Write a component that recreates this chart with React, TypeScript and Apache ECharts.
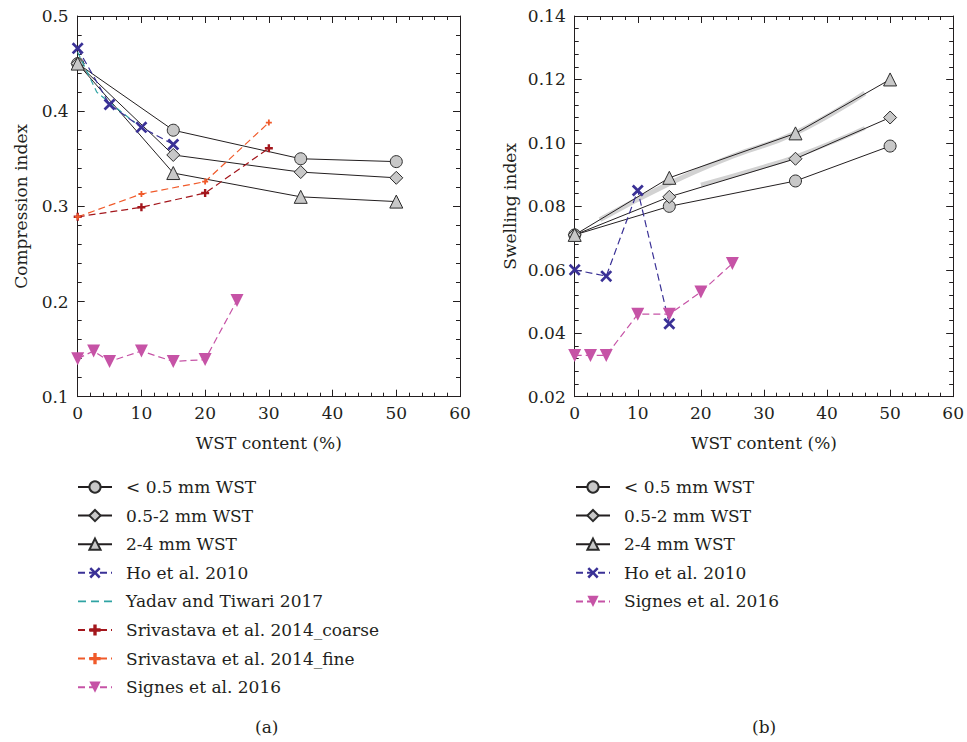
import React, { useEffect, useRef } from "react";
import * as echarts from "echarts";

// ---- data: (a) compression index ----
const wstX = [0, 15, 35, 50];
const ciFine = [0.45, 0.38, 0.35, 0.347];
const ciMid = [0.45, 0.354, 0.336, 0.33];
const ciCoarse = [0.45, 0.335, 0.31, 0.305];
const hoCiX = [0, 5, 10, 15];
const hoCi = [0.466, 0.407, 0.383, 0.365];
const yadavX = [0, 3, 5, 9];
const yadavCi = [0.462, 0.42, 0.409, 0.388];
const srivX = [0, 10, 20, 30];
const srivCoarse = [0.289, 0.299, 0.314, 0.361];
const srivFine = [0.289, 0.313, 0.326, 0.388];
const signesX = [0, 2.5, 5, 10, 15, 20, 25];
const signesCi = [0.14, 0.148, 0.137, 0.148, 0.137, 0.139, 0.201];

// ---- data: (b) swelling index ----
const siFine = [0.071, 0.08, 0.088, 0.099];
const siMid = [0.071, 0.083, 0.095, 0.108];
const siCoarse = [0.071, 0.089, 0.103, 0.12];
const hoSiX = [0, 5, 10, 15];
const hoSi = [0.06, 0.058, 0.085, 0.043];
const signesSi = [0.033, 0.033, 0.033, 0.046, 0.046, 0.053, 0.062];
const bandCoarseX = [4, 15, 25, 35, 46];
const bandCoarse = [0.0758, 0.0872, 0.0958, 0.1031, 0.1157];
const bandMidX = [20, 30, 35, 42, 46];
const bandMid = [0.0868, 0.0925, 0.0957, 0.1012, 0.1047];

const namesA = [
  "< 0.5 mm WST",
  "0.5-2 mm WST",
  "2-4 mm WST",
  "Ho et al. 2010",
  "Yadav and Tiwari 2017",
  "Srivastava et al. 2014_coarse",
  "Srivastava et al. 2014_fine",
  "Signes et al. 2016",
];
const namesB = ["< 0.5 mm WST", "0.5-2 mm WST", "2-4 mm WST", "Ho et al. 2010", "Signes et al. 2016"];

const FONT = "DejaVu Serif";
const FS = 17;
const INK = "#231f20";
const GREY = "#c8c8c8";
const HO = "#3a3196";
const TEAL = "#2fa3a3";
const SCOARSE = "#a3161c";
const SFINE = "#f05a2a";
const SIGNES = "#c653a6";

const X_SYM =
  "path://M0,1.6 L1.6,0 L5,3.4 L8.4,0 L10,1.6 L6.6,5 L10,8.4 L8.4,10 L5,6.6 L1.6,10 L0,8.4 L3.4,5 Z";
const PLUS_SYM = "path://M3.5,0 H6.5 V3.5 H10 V6.5 H6.5 V10 H3.5 V6.5 H0 V3.5 H3.5 Z";
const DASH_ICON =
  "path://M0,0 L0.01,0 Z M34,14 L33.99,14 Z M0,6.2 H8 V7.9 H0 Z M13,6.2 H21 V7.9 H13 Z M26,6.2 H34 V7.9 H26 Z";

const zip = (xs: number[], ys: number[]) => xs.map((x, i) => [x, ys[i]]);

function App() {
  const ref = useRef<HTMLDivElement>(null);
  useEffect(() => {
    if (!ref.current) return;
    const chart = echarts.init(ref.current, null, { renderer: "svg" });
    const txt = { fontFamily: FONT, fontSize: FS, color: INK };
    const grids = [
      { left: 77.7, top: 16, width: 382.3, height: 380.7 },
      { left: 574.7, top: 16, width: 382, height: 380.7 },
    ];
    const xCommon = (gridIndex: number, position: string, labels: boolean) => ({
      type: "value",
      gridIndex,
      position,
      min: 0,
      max: 60,
      interval: 10,
      axisLine: { show: true, onZero: false, lineStyle: { color: INK, width: 1 } },
      axisTick: { show: true, inside: true, length: 7, lineStyle: { color: INK } },
      minorTick: { show: true, splitNumber: 5, length: 4, lineStyle: { color: INK } },
      splitLine: { show: false },
      axisLabel: { show: labels, margin: 8, ...txt },
      ...(labels
        ? { name: "WST content (%)", nameLocation: "middle", nameGap: 38, nameTextStyle: txt }
        : {}),
    });
    const yCommon = (
      gridIndex: number,
      position: string,
      min: number,
      max: number,
      interval: number,
      dec: number,
      name: string | null,
      nameGap: number
    ) => ({
      type: "value",
      gridIndex,
      position,
      min,
      max,
      interval,
      axisLine: { show: true, onZero: false, lineStyle: { color: INK, width: 1 } },
      axisTick: { show: true, inside: true, length: 7, lineStyle: { color: INK } },
      minorTick: { show: true, splitNumber: 5, length: 4, lineStyle: { color: INK } },
      splitLine: { show: false },
      axisLabel: {
        show: !!name,
        margin: 9,
        formatter: (v: number) => v.toFixed(dec),
        ...txt,
      },
      ...(name ? { name, nameLocation: "middle", nameGap, nameTextStyle: txt } : {}),
    });

    const greyLine = (name: string, xi: number, data: number[][], symbol: string, size: number) => ({
      name,
      type: "line",
      xAxisIndex: xi,
      yAxisIndex: xi,
      data,
      symbol,
      symbolSize: size,
      lineStyle: { color: INK, width: 1 },
      itemStyle: { color: GREY, borderColor: "#2b2b2b", borderWidth: 1 },
      z: 3,
    });
    const dashLine = (
      name: string,
      xi: number,
      data: number[][],
      color: string,
      symbol: string,
      size: number,
      rotate = 0,
      dash: number[] = [7, 4]
    ) => ({
      name,
      type: "line",
      xAxisIndex: xi,
      yAxisIndex: xi,
      data,
      symbol,
      symbolSize: size,
      symbolRotate: rotate,
      lineStyle: { color, width: 1.2, type: dash },
      itemStyle: { color, borderWidth: 0 },
      z: 4,
    });

    const legend = (left: number, data: any[]) => ({
      left,
      top: 477,
      orient: "vertical",
      padding: 0,
      itemWidth: 34,
      itemHeight: 14,
      itemGap: 8.6,
      selectedMode: false,
      data,
      textStyle: { ...txt, lineHeight: 20, padding: [0, 0, 0, 9] },
    });
    const legendA = namesA.map((n) =>
      n === "Yadav and Tiwari 2017"
        ? { name: n, icon: DASH_ICON, itemStyle: { color: TEAL, borderWidth: 0, opacity: 1 } }
        : n
    );

    chart.setOption({
      animation: false,
      backgroundColor: "#ffffff",
      grid: grids,
      xAxis: [xCommon(0, "bottom", true), xCommon(0, "top", false), xCommon(1, "bottom", true), xCommon(1, "top", false)],
      yAxis: [
        yCommon(0, "left", 0.1, 0.5, 0.1, 1, "Compression index", 48),
        yCommon(0, "right", 0.1, 0.5, 0.1, 1, null, 0),
        yCommon(1, "left", 0.02, 0.14, 0.02, 2, "Swelling index", 56),
        yCommon(1, "right", 0.02, 0.14, 0.02, 2, null, 0),
      ],
      legend: [legend(77, legendA), legend(575, namesB)],
      series: [
        // (a)
        greyLine("< 0.5 mm WST", 0, zip(wstX, ciFine), "circle", 12),
        greyLine("0.5-2 mm WST", 0, zip(wstX, ciMid), "diamond", 13),
        greyLine("2-4 mm WST", 0, zip(wstX, ciCoarse), "triangle", 13),
        dashLine("Yadav and Tiwari 2017", 0, zip(yadavX, yadavCi), TEAL, "none", 0, 0, [6, 4]),
        dashLine("Srivastava et al. 2014_coarse", 0, zip(srivX, srivCoarse), SCOARSE, PLUS_SYM, 8),
        dashLine("Srivastava et al. 2014_fine", 0, zip(srivX, srivFine), SFINE, PLUS_SYM, 6),
        dashLine("Signes et al. 2016", 0, zip(signesX, signesCi), SIGNES, "triangle", 13, 180),
        dashLine("Ho et al. 2010", 0, zip(hoCiX, hoCi), HO, X_SYM, 12),
        // (b) grey bands
        {
          type: "line",
          xAxisIndex: 2,
          yAxisIndex: 2,
          data: zip(bandCoarseX, bandCoarse),
          symbol: "none",
          smooth: true,
          silent: true,
          lineStyle: { color: "#d2d2d2", width: 5 },
          z: 1,
        },
        {
          type: "line",
          xAxisIndex: 2,
          yAxisIndex: 2,
          data: zip(bandMidX, bandMid),
          symbol: "none",
          smooth: true,
          silent: true,
          lineStyle: { color: "#d2d2d2", width: 4 },
          z: 1,
        },
        greyLine("< 0.5 mm WST", 2, zip(wstX, siFine), "circle", 12),
        greyLine("0.5-2 mm WST", 2, zip(wstX, siMid), "diamond", 13),
        greyLine("2-4 mm WST", 2, zip(wstX, siCoarse), "triangle", 13),
        dashLine("Ho et al. 2010", 2, zip(hoSiX, hoSi), HO, X_SYM, 12),
        dashLine("Signes et al. 2016", 2, zip(signesX, signesSi), SIGNES, "triangle", 13, 180),
      ],
      graphic: [
        { type: "text", left: 255, top: 718, style: { text: "(a)", font: `${FS}px "${FONT}"`, fill: INK } },
        { type: "text", left: 752, top: 718, style: { text: "(b)", font: `${FS}px "${FONT}"`, fill: INK } },
      ],
    });
    return () => chart.dispose();
  }, []);
  return (
    <div
      ref={ref}
      style={{ position: "absolute", left: 0, top: 0, width: 967, height: 742, background: "#fff" }}
    />
  );
}

export default App;
